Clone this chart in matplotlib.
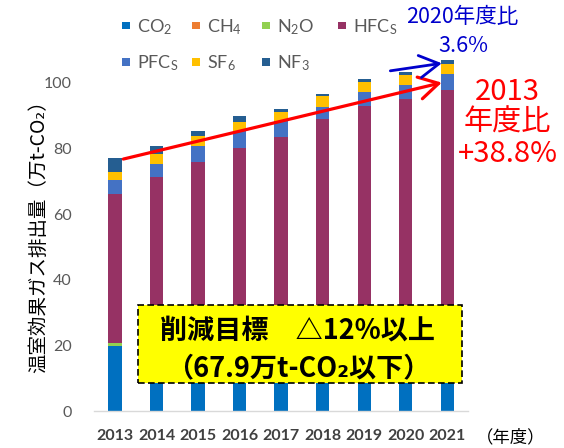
import matplotlib
matplotlib.use("Agg")
import matplotlib.pyplot as plt
from matplotlib.patches import Rectangle
import numpy as np

plt.rcParams['font.family'] = ['Lato', 'Noto Sans CJK JP', 'DejaVu Sans']
plt.rcParams['mathtext.fontset'] = 'custom'
plt.rcParams['mathtext.rm'] = 'Lato'
plt.rcParams['mathtext.it'] = 'Lato:italic'
plt.rcParams['mathtext.bf'] = 'Lato:bold'

years = ['2013', '2014', '2015', '2016', '2017', '2018', '2019', '2020', '2021']
co2 = [19.8, 19.3, 18.9, 18.6, 18.2, 17.9, 17.5, 17.0, 16.8]
ch4 = [0.1, 0.1, 0.1, 0.1, 0.1, 0.1, 0.1, 0.1, 0.1]
n2o = [0.8, 0.8, 0.8, 0.8, 0.8, 0.8, 0.8, 0.8, 0.8]
hfcs = [45.5, 51.1, 56.2, 60.6, 64.3, 70.2, 74.7, 77.2, 80.2]
pfcs = [4.1, 4.1, 4.8, 5.3, 5.0, 3.8, 4.2, 4.3, 4.9]
sf6 = [2.6, 2.8, 3.0, 2.8, 2.9, 3.3, 3.0, 2.9, 3.1]
nf3 = [4.2, 2.7, 1.6, 1.8, 0.9, 0.5, 0.8, 0.9, 1.1]
yticks = [0, 20, 40, 60, 80, 100]

series = [
    ('CO$_2$', co2, '#0070C0'),
    ('CH$_4$', ch4, '#ED7D31'),
    ('N$_2$O', n2o, '#92D050'),
    ('HFC$_\\mathrm{S}$', hfcs, '#963264'),
    ('PFC$_\\mathrm{S}$', pfcs, '#4472C4'),
    ('SF$_6$', sf6, '#FFC000'),
    ('NF$_3$', nf3, '#255E91'),
]

W, H = 564, 448
fig = plt.figure(figsize=(W / 100, H / 100), dpi=100)
ax = fig.add_axes([94.25 / W, 37 / H, 373.75 / W, 367.4 / H])

x = np.arange(len(years))
bottom = np.zeros(len(years))
for name, vals, col in series:
    ax.bar(x, vals, width=0.32, bottom=bottom, color=col, label=name, zorder=2)
    bottom += np.array(vals)

ax.set_xlim(-0.5, len(years) - 0.5)
ax.set_ylim(0, 112)
ax.set_yticks(yticks)
ax.set_yticklabels([str(v) for v in yticks])
ax.set_xticks(x)
ax.set_xticklabels(years, fontweight='bold')
ax.tick_params(axis='y', length=0, pad=16, labelsize=11.5, labelcolor='#595959')
ax.tick_params(axis='x', length=0, pad=13, labelsize=11.5, labelcolor='#404040')
for s in ['top', 'right', 'left']:
    ax.spines[s].set_visible(False)
ax.spines['bottom'].set_color('#D9D9D9')
ax.spines['bottom'].set_linewidth(1.0)

ax.set_ylabel('温室効果ガス排出量（万t-CO₂）', fontsize=14, va='center',
              family=['Noto Sans CJK JP', 'DejaVu Sans'], color='black')
ax.yaxis.set_label_coords(-0.148, 0.487)

# legend (manual, two rows)
leg_cols = [122, 192, 262, 338]
leg_rows = [25.7, 62]
order = [(0, 0), (1, 0), (2, 0), (3, 0), (0, 1), (1, 1), (2, 1)]
sq = 7.5
for (ci, ri), (name, vals, col) in zip(order, series):
    px, py = leg_cols[ci], leg_rows[ri]
    fig.add_artist(Rectangle((px / W, 1 - (py + sq / 2) / H), sq / W, sq / H,
                             transform=fig.transFigure, facecolor=col, edgecolor='none'))
    fig.text((px + 15) / W, 1 - (py + 1) / H, name, fontsize=13, color='#595959',
             va='center', ha='left')

# target box
box = Rectangle((0.116, 0.0754), 0.983 - 0.116, 0.2885 - 0.0754, transform=ax.transAxes,
                facecolor='#FFFF00', edgecolor='black', linestyle=(0, (4, 2)),
                linewidth=1.2, zorder=5)
ax.add_patch(box)
cjk = ['Noto Sans CJK JP', 'DejaVu Sans']
cx = (298 - 94.25) / 373.75
ax.text(cx, (411 - 331) / 367.4, '削減目標　△12%以上', transform=ax.transAxes,
        ha='center', va='center', fontsize=19.5, fontweight='bold', family=cjk,
        color='black', zorder=6)
ax.text(cx, (411 - 368) / 367.4, '（67.9万t-CO₂以下）', transform=ax.transAxes,
        ha='center', va='center', fontsize=19.5, fontweight='bold', family=cjk,
        color='black', zorder=6)

# arrows
ax.annotate('', xy=(7.87, 100.1), xytext=(0.2, 76.8),
            arrowprops=dict(arrowstyle='->,head_length=0.7,head_width=0.4', color='#FF0000',
                            lw=2.3, shrinkA=0, shrinkB=0, mutation_scale=20),
            zorder=7, annotation_clip=False)
ax.annotate('', xy=(7.87, 106.0), xytext=(6.63, 103.7),
            arrowprops=dict(arrowstyle='->,head_length=0.7,head_width=0.4', color='#0000CC',
                            lw=2.0, shrinkA=0, shrinkB=0, mutation_scale=20),
            zorder=7, annotation_clip=False)

# annotation texts
fig.text(507.5 / W, 1 - 123 / H, '2013\n年度比\n+38.8%', fontsize=21, color='#FF0000',
         ha='center', va='center', family=cjk, linespacing=1.05)
fig.text(462 / W, 1 - 17 / H, '2020年度比', fontsize=15.5, color='#0000CC',
         ha='center', va='center', family=cjk)
fig.text(463 / W, 1 - 46 / H, '3.6%', fontsize=15.5, color='#0000CC',
         ha='center', va='center', family=cjk)
fig.text(476 / W, 1 - 437 / H, '（年度）', fontsize=12.5, color='black',
         ha='left', va='center', family=cjk)

fig.savefig('out.png', dpi=100)
